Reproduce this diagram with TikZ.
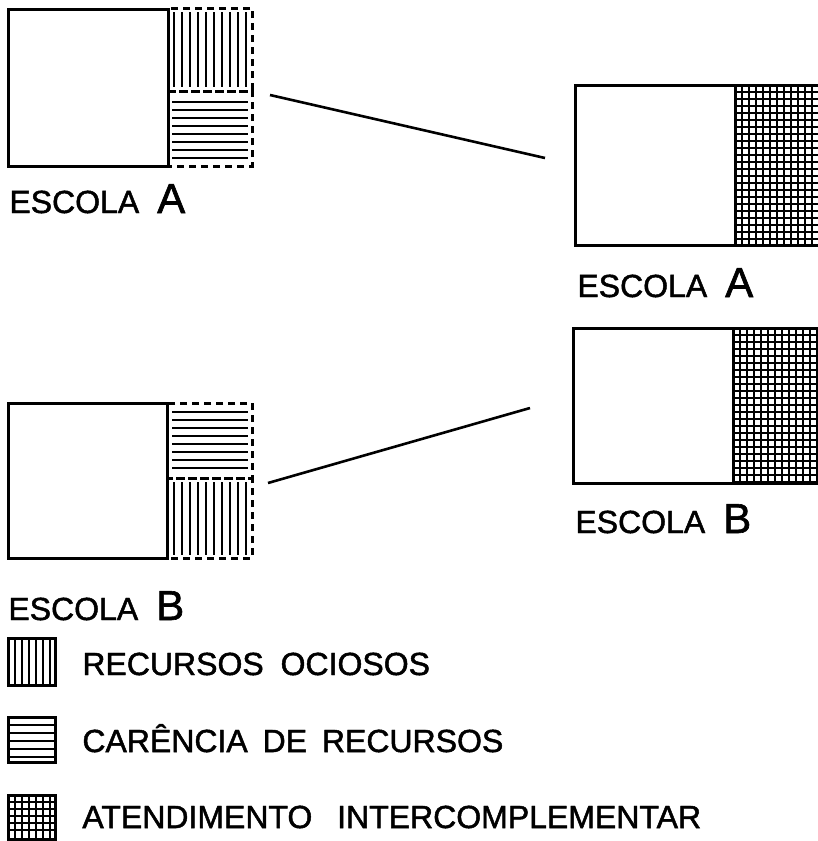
\documentclass[tikz,border=0pt]{standalone}
\usepackage{fontspec}
\setmainfont[FakeBold=1.5]{Liberation Sans}
\newcommand{\escola}[1]{{\fontsize{16}{18}\selectfont ESCOLA}\hspace{9pt}{\fontsize{21}{24}\selectfont #1}}
\tikzset{
  caixa/.style={draw, line width=1.5pt},
  tracejado/.style={draw, line width=1.5pt, dash pattern=on 3.5pt off 2.5pt},
  traco/.style={line width=1.2pt},
  grade/.style={line width=1.35pt},
  rotulo/.style={anchor=base west, inner sep=0pt, font=\fontsize{16}{18}\selectfont}
}
\begin{document}
\begin{tikzpicture}[x=0.5pt, y=-0.5pt]
  \useasboundingbox (0,0) rectangle (818,841);

  % Escola A (antes)
  \draw[caixa] (8,9) rectangle (168,166);
  \foreach \x in {174,182,...,246} {
    \draw[traco] (\x,12) -- (\x,87);
  }
  \foreach \y in {102,110,...,160} {
    \draw[traco] (172,\y) -- (248,\y);
  }
  \draw[tracejado] (168,8) rectangle (252,91);
  \draw[tracejado] (168,91) rectangle (252,166);
  \node[rotulo] (escA) at (9,213) {\escola{A}};

  % Escola B (antes)
  \draw[caixa] (8,403) rectangle (167,558);
  \foreach \y in {412,420,...,472} {
    \draw[traco] (172,\y) -- (248,\y);
  }
  \foreach \x in {174,182,...,246} {
    \draw[traco] (\x,482) -- (\x,555);
  }
  \draw[tracejado] (167,403) rectangle (252,478);
  \draw[tracejado] (167,478) rectangle (252,558);
  \node[rotulo] (escB) at (8,620) {\escola{B}};

  % Escola A (depois)
  \foreach \x in {735,742,...,818} {
    \draw[grade] (\x,85) -- (\x,245);
  }
  \foreach \y in {85,92,...,245} {
    \draw[grade] (735,\y) -- (818,\y);
  }
  \draw[caixa] (575,85) rectangle (735,245);
  \draw[caixa] (735,85) -- (818,85);
  \draw[caixa] (735,245) -- (818,245);
  \node[rotulo] (escA2) at (577,297) {\escola{A}};

  % Escola B (depois)
  \foreach \x in {733,740,...,818} {
    \draw[grade] (\x,328) -- (\x,483);
  }
  \foreach \y in {328,335,...,483} {
    \draw[grade] (733,\y) -- (818,\y);
  }
  \draw[caixa] (573,328) rectangle (733,483);
  \draw[caixa] (733,328) -- (818,328);
  \draw[caixa] (733,483) -- (818,483);
  \node[rotulo] (escB2) at (575,533) {\escola{B}};

  % Ligacoes
  \coordinate (a1) at (270,95);
  \coordinate (a2) at (545,158);
  \coordinate (b1) at (268,483);
  \coordinate (b2) at (530,408);
  \draw[line width=1.3pt] (a1) -- (a2);
  \draw[line width=1.3pt] (b1) -- (b2);

  % Legenda
  \draw[caixa] (8,638) rectangle (55,685);
  \foreach \x in {15,22,...,50} {
    \draw[traco] (\x,638) -- (\x,685);
  }
  \node[rotulo] (leg1) at (82,675) {RECURSOS\hspace{4pt} OCIOSOS};

  \draw[caixa] (8,717) rectangle (55,762);
  \foreach \y in {725,733,...,757} {
    \draw[traco] (8,\y) -- (55,\y);
  }
  \node[rotulo] (leg2) at (82,752) {CARÊNCIA\hspace{3pt} DE\hspace{3pt} RECURSOS};

  \foreach \x in {15,22,...,50} {
    \draw[grade] (\x,795) -- (\x,839);
  }
  \foreach \y in {802,809,...,835} {
    \draw[grade] (8,\y) -- (55,\y);
  }
  \draw[caixa] (8,795) rectangle (55,839);
  \node[rotulo] (leg3) at (82,828) {ATENDIMENTO\hspace{8pt} INTERCOMPLEMENTAR};
\end{tikzpicture}
\end{document}
